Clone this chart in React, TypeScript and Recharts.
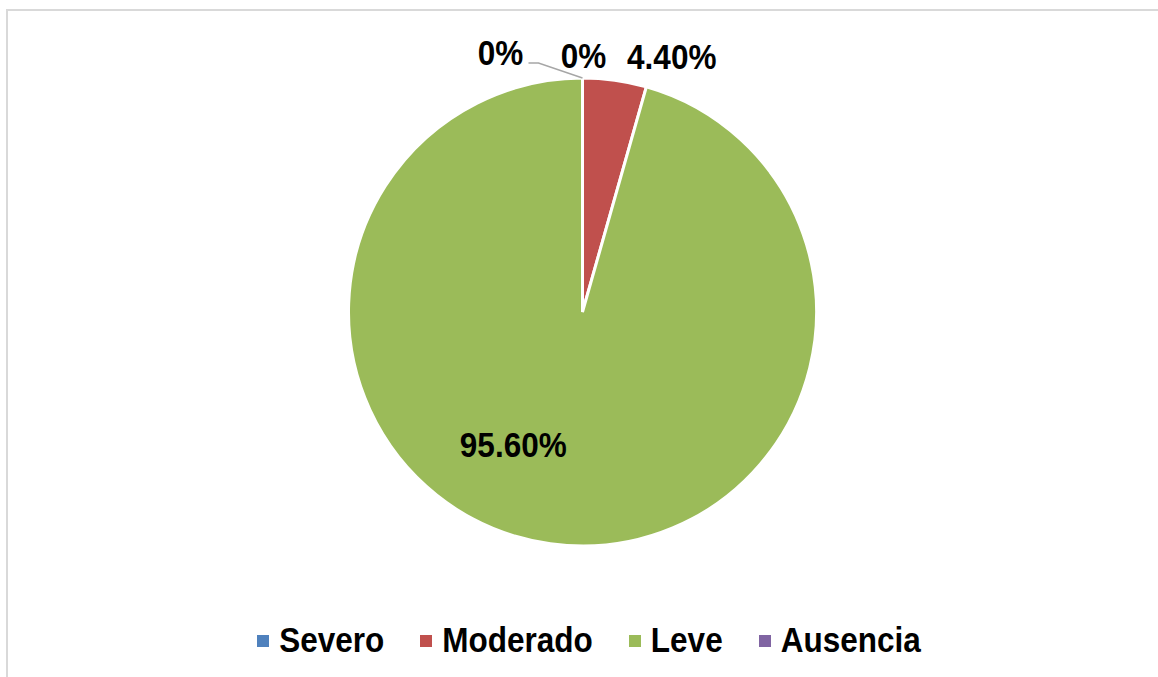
import { PieChart, Pie, Cell, Legend } from 'recharts'

const categories = ['Severo', 'Moderado', 'Leve', 'Ausencia']
const values = [0, 4.4, 95.6, 0]
const labelTexts = ['0%', '4.40%', '95.60%', '0%']
const colors = ['#4F81BD', '#C0504D', '#9BBB59', '#8064A2']

const data = categories.map((name, i) => ({ name, value: values[i] }))

const FONT = '"Liberation Sans", Arial, sans-serif'
const RAD = Math.PI / 180
const STRETCH = 1.1 // the original text is drawn a bit taller than wide

// label offsets from the point on the rim at the slice's mid angle
const labelOffsets = [
    { dx: -82, dy: -25 },
    { dx: 57, dy: -23 },
    { dx: -37, dy: -99 },
    { dx: 1, dy: -22 }
]

const renderLabel = (props: any) => {
    const { cx, cy, midAngle, outerRadius, index } = props
    const ax = cx + outerRadius * Math.cos(-midAngle * RAD)
    const ay = cy + outerRadius * Math.sin(-midAngle * RAD)
    const off = labelOffsets[index]
    const x = ax + off.dx
    const y = ay + off.dy
    return (
        <g key={`lbl-${index}`}>
            {index === 0 && (
                <polyline
                    points={`${ax},${ay} ${ax - 44},${ay - 15} ${ax - 54},${ay - 15}`}
                    fill="none"
                    stroke="#a6a6a6"
                    strokeWidth={1.5}
                />
            )}
            <text
                transform={`translate(${x} ${y}) scale(1 ${STRETCH})`}
                x={0}
                y={0}
                textAnchor="middle"
                dominantBaseline="central"
                fontFamily={FONT}
                fontWeight="bold"
                fontSize={31.5}
                fill="#000"
            >
                {labelTexts[index]}
            </text>
        </g>
    )
}

const renderLegend = () => (
    <div
        style={{
            display: 'flex',
            justifyContent: 'center',
            alignItems: 'center',
            gap: 36,
            paddingLeft: 12,
            fontFamily: FONT,
            fontWeight: 'bold',
            fontSize: 31.5,
            color: '#000'
        }}
    >
        {categories.map((name, i) => (
            <div key={name} style={{ display: 'flex', alignItems: 'center', gap: 10 }}>
                <span style={{ width: 12, height: 12, background: colors[i], display: 'inline-block' }} />
                <span style={{ display: 'inline-block', transform: `scaleY(${STRETCH})` }}>{name}</span>
            </div>
        ))}
    </div>
)

export default function App() {
    return (
        <div
            style={{
                position: 'fixed',
                left: 6,
                top: 9,
                width: 1152,
                height: 668,
                boxSizing: 'border-box',
                borderTop: '2px solid #d9d9d9',
                borderLeft: '2px solid #d9d9d9',
                background: '#fff'
            }}
        >
            <PieChart width={1150} height={666} margin={{ top: 0, right: 0, bottom: 0, left: 0 }}>
                <Pie
                    data={data}
                    dataKey="value"
                    nameKey="name"
                    cx={574.5}
                    cy={301}
                    outerRadius={234}
                    startAngle={90}
                    endAngle={-270}
                    stroke="#fff"
                    strokeWidth={3}
                    label={renderLabel}
                    labelLine={false}
                    isAnimationActive={false}
                >
                    {data.map((d, i) => (
                        <Cell key={d.name} fill={colors[i]} />
                    ))}
                </Pie>
                <Legend
                    content={renderLegend}
                    wrapperStyle={{ left: 0, top: 611, width: 1150 }}
                />
            </PieChart>
        </div>
    )
}
